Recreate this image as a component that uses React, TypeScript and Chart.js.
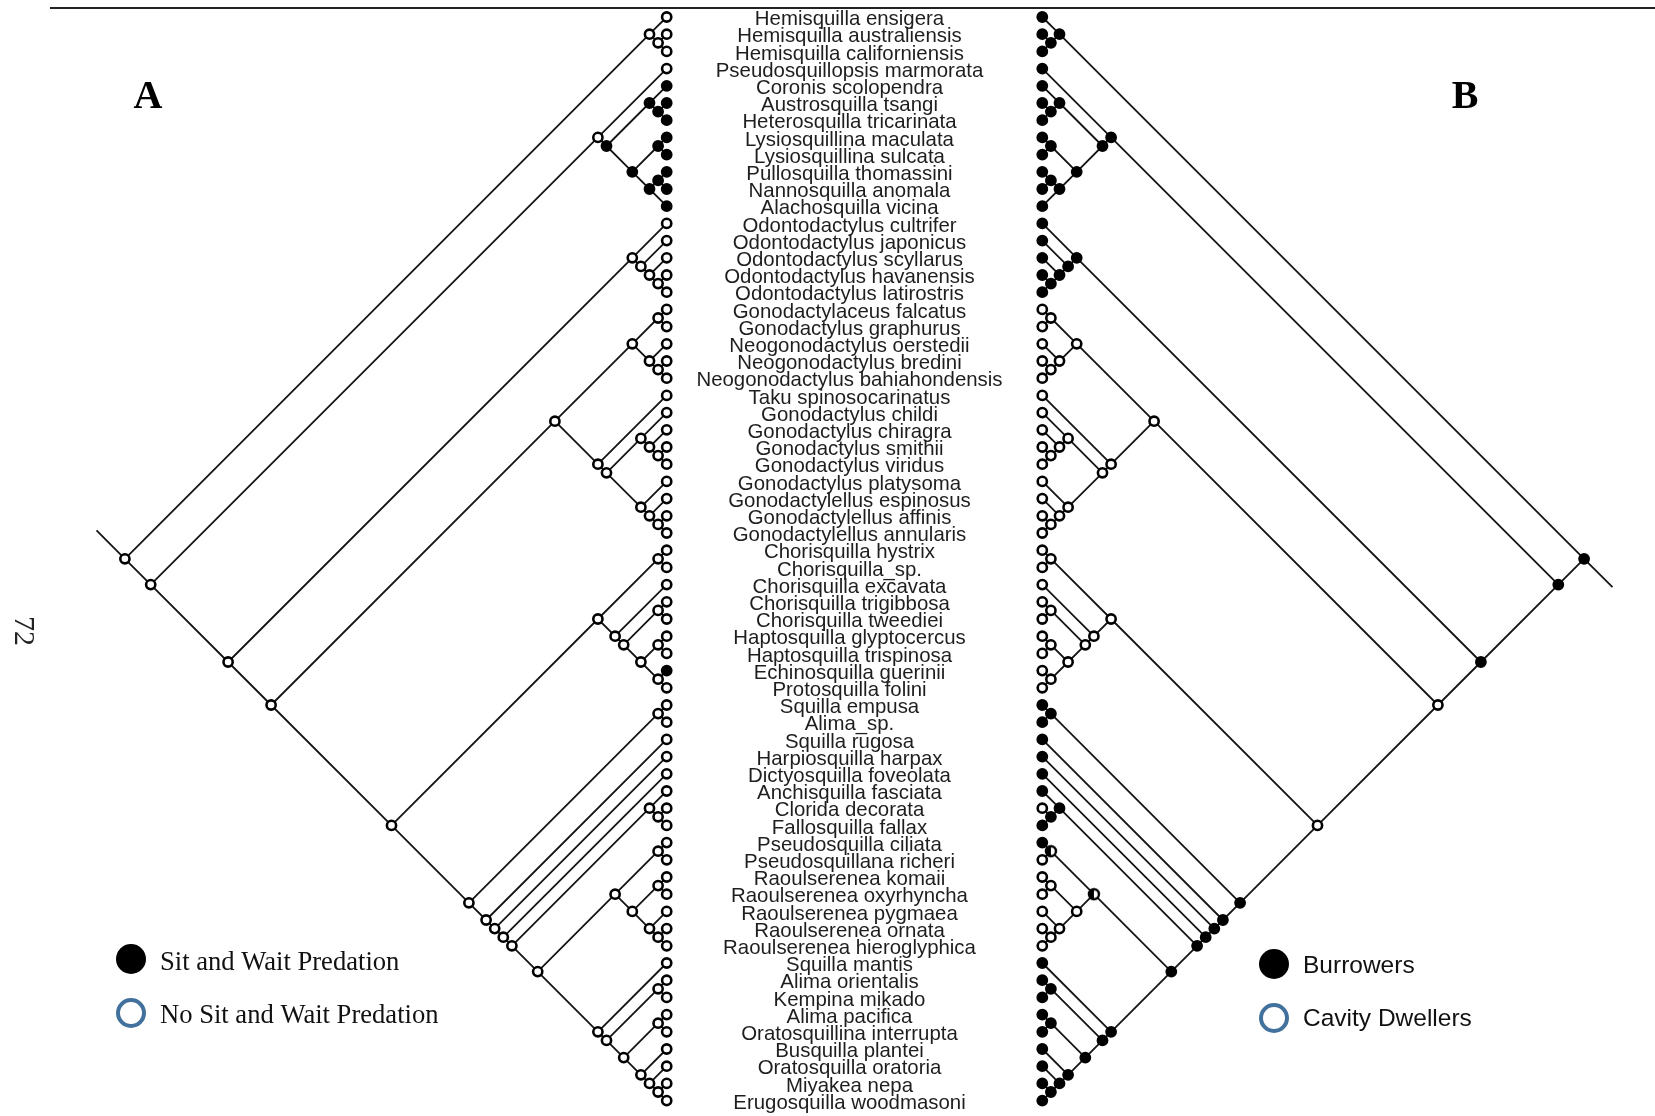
import React, { useEffect, useRef } from "react";
import { Chart, registerables } from "chart.js";

Chart.register(...registerables);

// ---------------- DATA ----------------
const SPECIES: string[] = [
  "Hemisquilla ensigera", "Hemisquilla australiensis", "Hemisquilla californiensis",
  "Pseudosquillopsis marmorata", "Coronis scolopendra", "Austrosquilla tsangi",
  "Heterosquilla tricarinata", "Lysiosquillina maculata", "Lysiosquillina sulcata",
  "Pullosquilla thomassini", "Nannosquilla anomala", "Alachosquilla vicina",
  "Odontodactylus cultrifer", "Odontodactylus japonicus", "Odontodactylus scyllarus",
  "Odontodactylus havanensis", "Odontodactylus latirostris", "Gonodactylaceus falcatus",
  "Gonodactylus graphurus", "Neogonodactylus oerstedii", "Neogonodactylus bredini",
  "Neogonodactylus bahiahondensis", "Taku spinosocarinatus", "Gonodactylus childi",
  "Gonodactylus chiragra", "Gonodactylus smithii", "Gonodactylus viridus",
  "Gonodactylus platysoma", "Gonodactylellus espinosus", "Gonodactylellus affinis",
  "Gonodactylellus annularis", "Chorisquilla hystrix", "Chorisquilla_sp.",
  "Chorisquilla excavata", "Chorisquilla trigibbosa", "Chorisquilla tweediei",
  "Haptosquilla glyptocercus", "Haptosquilla trispinosa", "Echinosquilla guerinii",
  "Protosquilla folini", "Squilla empusa", "Alima_sp.", "Squilla rugosa",
  "Harpiosquilla harpax", "Dictyosquilla foveolata", "Anchisquilla fasciata",
  "Clorida decorata", "Fallosquilla fallax", "Pseudosquilla ciliata",
  "Pseudosquillana richeri", "Raoulserenea komaii", "Raoulserenea oxyrhyncha",
  "Raoulserenea pygmaea", "Raoulserenea ornata", "Raoulserenea hieroglyphica",
  "Squilla mantis", "Alima orientalis", "Kempina mikado", "Alima pacifica",
  "Oratosquillina interrupta", "Busquilla plantei", "Oratosquilla oratoria",
  "Miyakea nepa", "Erugosquilla woodmasoni",
];

// Topology (Newick, leaves = index into SPECIES)
const CLADE_0_2 = "(0,(1,2))";
const CLADE_3_11 = "(3,((4,(5,6)),((7,8),((9,10),11))))";
const CLADE_12_16 = "(12,(13,(14,(15,16))))";
const CLADE_17_30 = "(((17,18),(19,(20,21))),(22,((23,(24,(25,26))),(27,(28,(29,30))))))";
const CLADE_31_39 = "((31,32),(33,((34,35),((36,37),(38,39)))))";
const CLADE_48_63 = "(((48,49),((50,51),(52,(53,54)))),(55,((56,57),((58,59),(60,(61,(62,63)))))))";
const CLADE_40_63 = `((40,41),(42,(43,(44,((45,(46,47)),${CLADE_48_63})))))`;
const TREE = `(${CLADE_0_2},(${CLADE_3_11},(${CLADE_12_16},(${CLADE_17_30},(${CLADE_31_39},${CLADE_40_63})))))`;

// Tip states: 1 = filled, 0 = open
const LEAF_A = [
  0, 0, 0, 0, 1, 1, 1, 1, 1, 1,
  1, 1, 0, 0, 0, 0, 0, 0, 0, 0,
  0, 0, 0, 0, 0, 0, 0, 0, 0, 0,
  0, 0, 0, 0, 0, 0, 0, 0, 1, 0,
  0, 0, 0, 0, 0, 0, 0, 0, 0, 0,
  0, 0, 0, 0, 0, 0, 0, 0, 0, 0,
  0, 0, 0, 0,
];
const LEAF_B = [
  1, 1, 1, 1, 1, 1, 1, 1, 1, 1,
  1, 1, 1, 1, 1, 1, 1, 0, 0, 0,
  0, 0, 0, 0, 0, 0, 0, 0, 0, 0,
  0, 0, 0, 0, 0, 0, 0, 0, 0, 0,
  1, 1, 1, 1, 1, 1, 0, 1, 1, 0,
  0, 0, 0, 0, 0, 1, 1, 1, 1, 1,
  1, 1, 1, 1,
];

// Internal node states (clade = first-last leaf)
const NODE_A_FILLED = ["4-11", "4-6", "5-6", "7-11", "7-8", "9-11", "9-10"];
const NODE_B_FILLED = [
  "0-63", "3-63", "12-63", "0-2", "1-2", "3-11", "4-11", "4-6", "5-6", "7-11", "7-8",
  "9-11", "9-10", "12-16", "13-16", "14-16", "15-16", "40-63", "40-41", "42-63",
  "43-63", "44-63", "45-63", "45-47", "46-47", "48-63", "55-63", "56-63", "56-57",
  "58-63", "58-59", "60-63", "61-63", "62-63",
];
const NODE_B_HALF = ["48-54", "48-49"];

const LEGEND_A = ["Sit and Wait Predation", "No Sit and Wait Predation"];
const LEGEND_B = ["Burrowers", "Cavity Dwellers"];

// ---------------- LAYOUT (units: one leaf spacing) ----------------
const UNIT = 17.2;
const X_MIN = -666.7 / UNIT;
const X_MAX = X_MIN + 1655 / UNIT;
const Y_MIN = -17 / UNIT;
const Y_MAX = Y_MIN + 1116 / UNIT;
const GAP = (1042.3 - 666.7) / UNIT;
const STEM = 1.65;

type Node = { lo: number; hi: number; kids: Node[] };

function parseNewick(s: string): Node {
  let i = 0;
  const parse = (): Node => {
    if (s[i] === "(") {
      i++;
      const kids: Node[] = [parse()];
      while (s[i] === ",") { i++; kids.push(parse()); }
      i++;
      return { lo: kids[0].lo, hi: kids[kids.length - 1].hi, kids };
    }
    let num = "";
    while (i < s.length && /\d/.test(s[i])) num += s[i++];
    const k = parseInt(num, 10);
    return { lo: k, hi: k, kids: [] };
  };
  return parse();
}

function allNodes(n: Node, out: Node[] = []): Node[] {
  out.push(n);
  n.kids.forEach((k) => allNodes(k, out));
  return out;
}

function halfMarker(): HTMLCanvasElement {
  const c = document.createElement("canvas");
  c.width = 14; c.height = 14;
  const g = c.getContext("2d")!;
  g.beginPath(); g.arc(7, 7, 5, 0, Math.PI * 2); g.fillStyle = "#fff"; g.fill();
  g.beginPath(); g.arc(7, 7, 5, Math.PI / 2, Math.PI * 1.5); g.fillStyle = "#000"; g.fill();
  g.beginPath(); g.arc(7, 7, 5, 0, Math.PI * 2); g.lineWidth = 2.4; g.strokeStyle = "#000"; g.stroke();
  return c;
}

function buildTree(side: "A" | "B") {
  const root = parseNewick(TREE);
  const nodes = allNodes(root);
  const sign = side === "A" ? -1 : 1;
  const off = side === "A" ? 0 : GAP;
  const leaf = side === "A" ? LEAF_A : LEAF_B;
  const filled = side === "A" ? NODE_A_FILLED : NODE_B_FILLED;
  const half = side === "A" ? [] : NODE_B_HALF;
  const px = (n: Node) => off + sign * (n.hi - n.lo) / 2;
  const py = (n: Node) => (n.lo + n.hi) / 2;
  const lines: any[] = [];
  const open: any[] = [];
  const full: any[] = [];
  const halfPts: any[] = [];
  // root stem
  const stemDir = side === "A" ? -1 : 1;
  lines.push({ x: px(root), y: py(root) }, { x: px(root) + sign * STEM, y: py(root) + stemDir * STEM }, { x: NaN, y: null });
  nodes.forEach((n) => {
    n.kids.forEach((k) => {
      lines.push({ x: px(n), y: py(n) }, { x: px(k), y: py(k) }, { x: NaN, y: null });
    });
    const key = `${n.lo}-${n.hi}`;
    const p = { x: px(n), y: py(n) };
    if (n.kids.length === 0) {
      (leaf[n.lo] ? full : open).push(p);
    } else if (half.includes(key)) {
      halfPts.push(p);
    } else if (filled.includes(key)) {
      full.push(p);
    } else {
      open.push(p);
    }
  });
  return { lines, open, full, halfPts };
}

const decorPlugin = {
  id: "decor",
  beforeDatasetsDraw(chart: any) {
    const ctx = chart.ctx as CanvasRenderingContext2D;
    ctx.save();
    ctx.strokeStyle = "#222";
    ctx.lineWidth = 2;
    ctx.beginPath();
    ctx.moveTo(50, 8);
    ctx.lineTo(1655, 8);
    ctx.stroke();
    ctx.restore();
  },
  afterDatasetsDraw(chart: any) {
    const ctx = chart.ctx as CanvasRenderingContext2D;
    const xs = chart.scales.x;
    const ys = chart.scales.y;
    ctx.save();
    // species labels
    const cx = (xs.getPixelForValue(0) + xs.getPixelForValue(GAP)) / 2 - 5;
    ctx.fillStyle = "#1e1e1e";
    ctx.font = '20.4px "Liberation Sans", Arial, sans-serif';
    ctx.textAlign = "center";
    ctx.textBaseline = "middle";
    SPECIES.forEach((s, i) => {
      ctx.fillText(s, cx, ys.getPixelForValue(i) + 2.5);
    });
    // panel letters
    ctx.fillStyle = "#000";
    ctx.font = 'bold 40px "Liberation Serif", "Times New Roman", serif';
    ctx.fillText("A", 148, 98);
    ctx.fillText("B", 1465, 98);
    // page number
    ctx.save();
    ctx.translate(22.5, 631);
    ctx.rotate(Math.PI / 2);
    ctx.font = '30px "Liberation Serif", "Times New Roman", serif';
    ctx.fillStyle = "#222";
    ctx.fillText("72", 0, 0);
    ctx.restore();
    // legend A
    ctx.fillStyle = "#000";
    ctx.beginPath(); ctx.arc(131, 959, 15, 0, Math.PI * 2); ctx.fill();
    ctx.strokeStyle = "#41719c"; ctx.lineWidth = 4;
    ctx.beginPath(); ctx.arc(131, 1013, 13, 0, Math.PI * 2); ctx.stroke();
    ctx.fillStyle = "#111";
    ctx.textAlign = "left";
    ctx.textBaseline = "middle";
    ctx.font = '26.6px "Liberation Serif", "Times New Roman", serif';
    ctx.fillText(LEGEND_A[0], 160, 963);
    ctx.fillText(LEGEND_A[1], 160, 1016);
    // legend B
    ctx.fillStyle = "#000";
    ctx.beginPath(); ctx.arc(1274, 964, 15, 0, Math.PI * 2); ctx.fill();
    ctx.strokeStyle = "#41719c"; ctx.lineWidth = 4;
    ctx.beginPath(); ctx.arc(1274, 1018, 13, 0, Math.PI * 2); ctx.stroke();
    ctx.fillStyle = "#111";
    ctx.font = '24.5px "Liberation Sans", Arial, sans-serif';
    ctx.fillText(LEGEND_B[0], 1303, 966);
    ctx.fillText(LEGEND_B[1], 1303, 1019);
    ctx.restore();
  },
};

export default function App() {
  const ref = useRef<HTMLCanvasElement | null>(null);
  useEffect(() => {
    if (!ref.current) return;
    const a = buildTree("A");
    const b = buildTree("B");
    const lineDs = (data: any[]) => ({
      type: "scatter" as const,
      data,
      showLine: true,
      spanGaps: false,
      borderColor: "#141414",
      borderWidth: 1.8,
      pointRadius: 0,
      order: 2,
    });
    const markerDs = (data: any[], bg: string, extra: any = {}) => ({
      type: "scatter" as const,
      data,
      showLine: false,
      pointRadius: 4.6,
      pointBorderWidth: 2.6,
      pointBackgroundColor: bg,
      pointBorderColor: "#000",
      order: 1,
      ...extra,
    });
    const chart = new Chart(ref.current, {
      type: "scatter",
      data: {
        datasets: [
          lineDs(a.lines),
          lineDs(b.lines),
          markerDs([...a.open, ...b.open], "#fff"),
          markerDs([...a.full, ...b.full], "#000"),
          markerDs(b.halfPts, "#fff", { pointStyle: halfMarker() }),
        ] as any,
      },
      options: {
        responsive: false,
        animation: false,
        devicePixelRatio: 1,
        events: [],
        layout: { padding: 0, autoPadding: false },
        plugins: { legend: { display: false }, tooltip: { enabled: false } },
        scales: {
          x: { type: "linear", display: false, min: X_MIN, max: X_MAX },
          y: { type: "linear", display: false, reverse: true, min: Y_MIN, max: Y_MAX },
        },
      },
      plugins: [decorPlugin],
    });
    return () => chart.destroy();
  }, []);
  return (
    <div style={{ position: "absolute", left: 0, top: 0, width: 1655, height: 1116, background: "#fff" }}>
      <canvas ref={ref} width={1655} height={1116} style={{ display: "block" }} />
    </div>
  );
}
